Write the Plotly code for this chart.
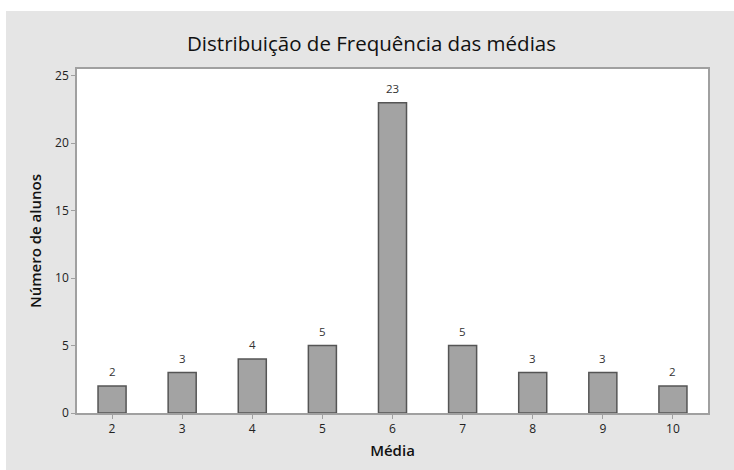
import plotly.graph_objects as go

medias = [2, 3, 4, 5, 6, 7, 8, 9, 10]
alunos = [2, 3, 4, 5, 23, 5, 3, 3, 2]
y_ticks = [0, 5, 10, 15, 20, 25]

W, H = 734, 470
L, R, T, B = 77, 708, 69, 413
pw, ph = R - L, B - T

def px_x(p):
    return (p - L) / pw

def px_y(p):
    return (B - p) / ph

FONT = "Open Sans"

fig = go.Figure()
fig.add_trace(go.Bar(
    x=medias, y=alunos, width=0.4,
    marker=dict(color="#a3a3a3", line=dict(color="#555555", width=1.5)),
    hoverinfo="x+y",
))

for m, a in zip(medias, alunos):
    fig.add_annotation(x=m, y=a, text=str(a), showarrow=False, yanchor="bottom",
                       yshift=5, font=dict(family=FONT, size=11.5, color="#333333"))

fig.update_layout(
    width=W, height=H,
    margin=dict(l=L, r=W - R, t=T, b=H - B),
    paper_bgcolor="#e5e5e5", plot_bgcolor="white",
    showlegend=False,
    title=dict(text="Distribuição de Frequência das médias", x=371.5 / W, xanchor="center",
               y=1 - 44 / H, yanchor="middle",
               font=dict(family=FONT, size=20.5, color="#111111")),
    font=dict(family=FONT, color="#222222"),
    xaxis=dict(range=[1.5, 10.5], tickvals=medias, ticktext=[str(m) for m in medias],
               showgrid=False, zeroline=False, showline=True, mirror=True,
               linecolor="#a0a0a0", linewidth=1.5, ticks="outside", ticklen=4,
               tickcolor="#a0a0a0", tickfont=dict(family=FONT, size=12, color="#222222"),
               title=dict(text="Média", standoff=9,
                          font=dict(family=FONT, size=15, color="#111111", weight=600))),
    yaxis=dict(range=[0, 25.5], tickvals=y_ticks, showgrid=False, zeroline=False,
               showline=True, mirror=True, linecolor="#a0a0a0", linewidth=1.5,
               ticks="outside", ticklen=4, tickcolor="#a0a0a0",
               tickfont=dict(family=FONT, size=12, color="#222222"),
               title=dict(text="Número de alunos", standoff=10,
                          font=dict(family=FONT, size=15, color="#111111", weight=600))),
)

# white strips on top and left of the image
fig.add_shape(type="rect", xref="paper", yref="paper", x0=px_x(-5), x1=px_x(W + 5),
              y0=px_y(11), y1=px_y(-5), fillcolor="white", line=dict(width=0), layer="below")
fig.add_shape(type="rect", xref="paper", yref="paper", x0=px_x(-5), x1=px_x(6),
              y0=px_y(H + 5), y1=px_y(-5), fillcolor="white", line=dict(width=0), layer="below")

fig.write_html("out.html", config={"displayModeBar": False},
               post_script="document.body.style.margin='0px';document.body.style.overflow='hidden';")
